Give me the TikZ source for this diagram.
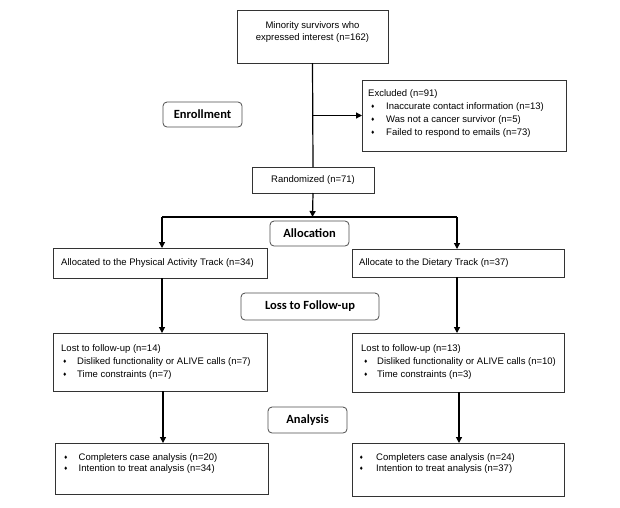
\documentclass[tikz,border=0pt]{standalone}
\usepackage{fontspec}
\setmainfont{Liberation Sans}
\newfontfamily\labfont{Carlito}
\newfontfamily\dejavu{DejaVu Sans}
\usetikzlibrary{arrows.meta}
\newcommand{\bul}{{\dejavu\fontsize{5}{5}\selectfont\raisebox{0.4pt}{♦}}}
\newcommand{\itm}[2]{\hspace*{#1}\makebox[#2][l]{\bul}}
\begin{document}
\begin{tikzpicture}[x=1pt,y=-1pt,
  box/.style={draw=black!80, line width=0.8pt, anchor=north west, inner sep=0pt, outer sep=0pt},
  lab/.style={draw=black!70, line width=0.8pt, rounded corners=4pt, anchor=north west, inner sep=0pt, outer sep=0pt, font=\labfont\bfseries\fontsize{12.5}{14}\selectfont},
  txt/.style={inner sep=0pt, anchor=north west, align=left, font=\fontsize{9.5}{13}\selectfont},
  conn/.style={line width=1.2pt, black},
  arr/.style={conn, -{Triangle[length=6pt,width=6pt]}},
]
\useasboundingbox (0,0) rectangle (620,507);
% boxes
\node[box, minimum width=151pt, minimum height=53pt] (top) at (237,10) {};
\node[box, minimum width=204pt, minimum height=71pt] (excl) at (362,80) {};
\node[lab, minimum width=79pt, minimum height=25pt] (enroll) at (163,102) {Enrollment};
\node[box, minimum width=122pt, minimum height=26pt, font=\fontsize{9.5}{13}\selectfont] (rand) at (252,167) {Randomized (n=71)};
\node[lab, minimum width=79pt, minimum height=25pt] (alloc) at (270,221) {Allocation};
\node[box, minimum width=214pt, minimum height=30pt] (pa) at (53,248) {};
\node[box, minimum width=212pt, minimum height=28pt] (diet) at (352,249) {};
\node[lab, minimum width=138pt, minimum height=27pt] (loss) at (241,293) {Loss to Follow-up};
\node[box, minimum width=214pt, minimum height=58pt] (lostpa) at (53,333) {};
\node[box, minimum width=212pt, minimum height=59pt] (lostd) at (352,333) {};
\node[lab, minimum width=79pt, minimum height=26pt] (anal) at (268,407) {Analysis};
\node[box, minimum width=213pt, minimum height=51pt] (finpa) at (55,443) {};
\node[box, minimum width=212pt, minimum height=53pt] (find) at (352,443) {};
% texts
\node[txt, anchor=north, align=center, font=\fontsize{9.5}{12}\selectfont] (toptxt) at (312.5,21) {Minority survivors who\\expressed interest (n=162)};
\node[txt] (excltxt) at (368,89) {Excluded (n=91)\\
\itm{2.5pt}{15.5pt}Inaccurate contact information (n=13)\\
\itm{2.5pt}{15.5pt}Was not a cancer survivor (n=5)\\
\itm{2.5pt}{15.5pt}Failed to respond to emails (n=73)};
\node[txt, anchor=west] (patxt) at (61,263) {Allocated to the Physical Activity Track (n=34)};
\node[txt, anchor=west] (diettxt) at (359,263) {Allocate to the Dietary Track (n=37)};
\node[txt] (lostpatxt) at (61,344) {Lost to follow-up (n=14)\\
\itm{1.5pt}{14.5pt}Disliked functionality or ALIVE calls (n=7)\\
\itm{1.5pt}{14.5pt}Time constraints (n=7)};
\node[txt] (lostdtxt) at (361,344) {Lost to follow-up (n=13)\\
\itm{2.5pt}{13.5pt}Disliked functionality or ALIVE calls (n=10)\\
\itm{2.5pt}{13.5pt}Time constraints (n=3)};
\node[txt, font=\fontsize{9.5}{11}\selectfont] (finpatxt) at (63.5,453) {\itm{0pt}{15pt}Completers case analysis (n=20)\\
\itm{0pt}{15pt}Intention to treat analysis (n=34)};
\node[txt, font=\fontsize{9.5}{11}\selectfont] (findtxt) at (359,453) {\itm{0pt}{17pt}Completers case analysis (n=24)\\
\itm{0pt}{17pt}Intention to treat analysis (n=37)};
% connectors
\coordinate (excljoin) at (top.south |- excl.west);
\coordinate (split) at (312.5,217);
\coordinate (splitL) at (162,217);
\coordinate (splitR) at (457,217);
\coordinate (colL) at (163,0);
\coordinate (colR) at (459,0);
\draw[conn] (top.south) -- (rand.north);
\draw[arr] (excljoin) -- (excl.west);
\draw[arr] (rand.south) -- (split);
\draw[conn] (splitL) -- (splitR);
\draw[arr] (splitL) -- (splitL |- pa.north);
\draw[arr] (splitR) -- (splitR |- diet.north);
\draw[arr] (splitL |- pa.south) -- (splitL |- lostpa.north);
\draw[arr] (splitR |- diet.south) -- (splitR |- lostd.north);
\draw[arr] (colL |- lostpa.south) -- (colL |- finpa.north);
\draw[arr] (colR |- lostd.south) -- (colR |- find.north);
\end{tikzpicture}
\end{document}
